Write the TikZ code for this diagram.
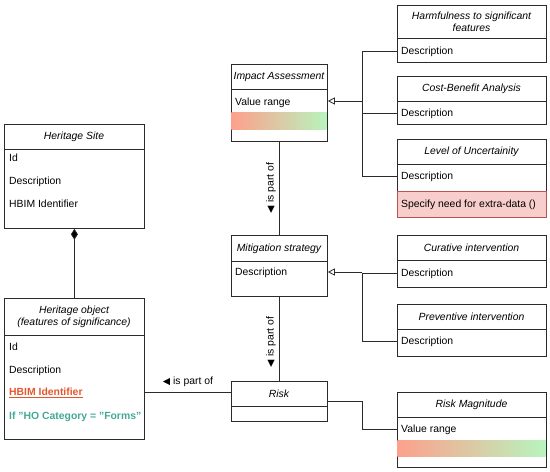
\documentclass[tikz,border=0pt]{standalone}
\usepackage{fontspec}
\setmainfont{Liberation Sans}
\newfontfamily\symfont{DejaVu Sans}
\usetikzlibrary{arrows.meta}
\definecolor{ln}{HTML}{2B2B2B}
\definecolor{gradL}{RGB}{253,160,140}
\definecolor{gradM}{RGB}{240,213,168}
\definecolor{gradR}{RGB}{184,244,190}
\definecolor{redfill}{HTML}{F8CECC}
\definecolor{redline}{HTML}{B85450}
\definecolor{hbimred}{HTML}{E4572E}
\definecolor{formteal}{HTML}{44A896}
\newcommand{\tri}{{\symfont\fontsize{9.5pt}{9.5pt}\selectfont ◀}}
\newcommand{\dq}{\char34\relax}
\begin{document}
\begin{tikzpicture}[x=1pt,y=-1pt,
  every node/.style={font=\fontsize{10.4pt}{12.4pt}\selectfont},
  cls/.style={draw=ln, line width=0.8pt, inner sep=0pt, anchor=north west},
  sepl/.style={draw=ln, line width=0.8pt},
  ttl/.style={font=\fontsize{10.4pt}{12.4pt}\selectfont\itshape, inner sep=0pt, align=center},
  attr/.style={inner sep=0pt, anchor=west, text height=7.5pt, text depth=0pt},
  conn/.style={draw=ln, line width=0.8pt},
  lbl/.style={inner sep=0pt},
  grad/.style={left color=gradL, middle color=gradM, right color=gradR, draw=none},
]
\useasboundingbox (0,0) rectangle (550,472);

% ---------- class boxes ----------
\node[cls, minimum width=140pt, minimum height=104pt] (hsite) at (4,124) {};
\node[cls, minimum width=140pt, minimum height=141pt] (hobj) at (4,298) {};
\node[cls, minimum width=96pt, minimum height=77pt] (impact) at (231,64) {};
\node[cls, minimum width=96pt, minimum height=61pt] (mitig) at (231,235) {};
\node[cls, minimum width=96pt, minimum height=40pt] (risk) at (231,381) {};
\node[cls, minimum width=149pt, minimum height=57pt] (harm) at (397,5) {};
\node[cls, minimum width=149pt, minimum height=48pt] (cost) at (397,76) {};
\node[cls, minimum width=149pt, minimum height=52pt] (unc) at (397,139) {};
\node[cls, minimum width=149pt, minimum height=26pt, draw=redline, fill=redfill] (uncx) at (397,191) {};
\node[cls, minimum width=149pt, minimum height=52pt] (cur) at (397,235) {};
\node[cls, minimum width=149pt, minimum height=52pt] (prev) at (397,304) {};
\node[cls, minimum width=149pt, minimum height=75pt] (rmag) at (397,392) {};

% header separators
\draw[sepl] (4,149) -- (144,149);
\draw[sepl] (4,335) -- (144,335);
\draw[sepl] (231,89) -- (327,89);
\draw[sepl] (231,261) -- (327,261);
\draw[sepl] (231,406) -- (327,406);
\draw[sepl] (397,38) -- (546,38);
\draw[sepl] (397,101) -- (546,101);
\draw[sepl] (397,164) -- (546,164);
\draw[sepl] (397,260) -- (546,260);
\draw[sepl] (397,329) -- (546,329);
\draw[sepl] (397,417) -- (546,417);

% gradients
\shade[grad] (231.4,112) rectangle (326.6,129);
\shade[grad] (397.4,440) rectangle (545.6,456);

% ---------- titles ----------
\node[ttl] (hsiteT) at (74,137) {Heritage Site};
\node[ttl] (hobjT) at (74,317) {Heritage object\\(features of significance)};
\node[ttl] (impactT) at (279,77) {Impact Assessment};
\node[ttl] (mitigT) at (279,248.5) {Mitigation strategy};
\node[ttl] (riskT) at (279,394) {Risk};
\node[ttl] (harmT) at (471.5,22) {Harmfulness to significant\\features};
\node[ttl] (costT) at (471.5,89) {Cost-Benefit Analysis};
\node[ttl] (uncT) at (471.5,152) {Level of Uncertainity};
\node[ttl] (curT) at (471.5,248) {Curative intervention};
\node[ttl] (prevT) at (471.5,317) {Preventive intervention};
\node[ttl] (rmagT) at (471.5,405) {Risk Magnitude};

% ---------- attributes ----------
\node[attr] (hsiteA1) at (9,158) {Id};
\node[attr] (hsiteA2) at (9,181) {Description};
\node[attr] (hsiteA3) at (9,204) {HBIM Identifier};
\node[attr] (hobjA1) at (9,347) {Id};
\node[attr] (hobjA2) at (9,370) {Description};
\node[attr, text=hbimred, font=\fontsize{10.4pt}{12.4pt}\selectfont\bfseries] (hobjA3) at (9,392) {\underline{HBIM Identifier}};
\node[attr, text=formteal, font=\fontsize{10.4pt}{12.4pt}\selectfont\bfseries] (hobjA4) at (9,416) {If \dq HO Category = \dq Forms\dq};
\node[attr] (impactA1) at (235,102) {Value range};
\node[attr] (mitigA1) at (235,272) {Description};
\node[attr] (harmA1) at (401,51) {Description};
\node[attr] (costA1) at (401,113) {Description};
\node[attr] (uncA1) at (401,176) {Description};
\node[attr] (uncxA1) at (401,204) {Specify need for extra-data ()};
\node[attr] (curA1) at (401,273) {Description};
\node[attr] (prevA1) at (401,341) {Description};
\node[attr] (rmagA1) at (401,429) {Value range};

% ---------- connectors ----------
\coordinate (bus1) at (362,101);
\coordinate (bus2) at (362,272);

\draw[conn, -{Diamond[fill=black, length=11pt, width=7pt]}] (hobj.north) -- (hsite.south);

\draw[conn] (impact.south) -- (mitig.north);
\draw[conn] (mitig.south) -- (risk.north);
\draw[conn] (hobjA3 -| hobj.east) -- (hobjA3 -| risk.west);

\draw[conn] (harmA1 -| harm.west) -- (harmA1 -| bus1) -- (uncA1 -| bus1) -- (uncA1 -| unc.west);
\draw[conn] (costA1 -| cost.west) -- (costA1 -| bus1);
\draw[conn, -{Triangle[open, length=7pt, width=7pt]}] (bus1) -- (bus1 -| impact.east);

\draw[conn] (curA1 -| cur.west) -- (curA1 -| bus2) -- (prevA1 -| bus2) -- (prevA1 -| prev.west);
\draw[conn, -{Triangle[open, length=7pt, width=7pt]}] (bus2) -- (bus2 -| mitig.east);

\draw[conn] (risk.east) -- (risk.east -| bus2) |- (rmagA1 -| rmag.west);

% ---------- labels ----------
\node[lbl, rotate=90] (lab1) at (271,188) {\tri\ is part of};
\node[lbl, rotate=90] (lab2) at (271,342) {\tri\ is part of};
\node[lbl] (lab3) at (188,382) {\tri\ is part of};
\end{tikzpicture}
\end{document}
